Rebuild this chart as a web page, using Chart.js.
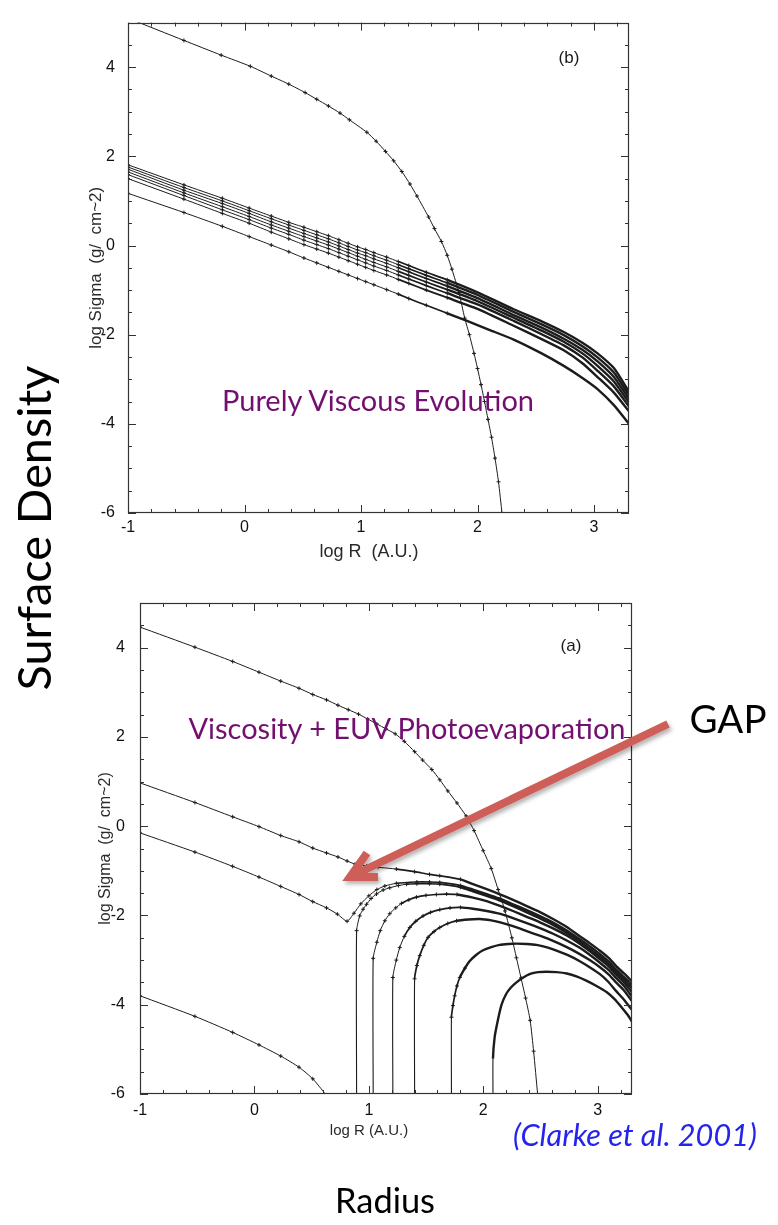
<!DOCTYPE html>
<html><head><meta charset="utf-8">
<script src="https://cdn.jsdelivr.net/npm/chart.js@4.4.1/dist/chart.umd.min.js"></script>
<style>
html,body{margin:0;padding:0;background:#fff;}
#page{position:relative;width:778px;height:1225px;overflow:hidden;background:#fff;}
#page canvas{position:absolute;left:0;}
.t{position:absolute;white-space:nowrap;line-height:1;left:0;top:0;}
.lab{font-family:"Liberation Sans",Arial,sans-serif;color:#1a1a1a;font-size:17px;}
.cal{font-family:Lato,"Open Sans",sans-serif;}
</style></head><body>
<div id="page">
<canvas id="cTop" width="778" height="570" style="top:0;width:778px;height:570px"></canvas>
<canvas id="cBot" width="778" height="580" style="top:570px;width:778px;height:580px"></canvas>
<div class="t lab" id="tb">(b)</div>
<div class="t lab" id="ta">(a)</div>
<div class="t cal" id="t1" style="color:#73106f">Purely Viscous Evolution</div>
<div class="t cal" id="t2" style="color:#73106f">Viscosity + EUV Photoevaporation</div>
<svg width="778" height="1225" style="position:absolute;left:0;top:0;pointer-events:none">
<defs><filter id="sh" x="-20%" y="-40%" width="140%" height="180%"><feDropShadow dx="2" dy="3" stdDeviation="2" flood-color="#000" flood-opacity="0.3"/></filter></defs>
<g filter="url(#sh)" stroke="#cd5f59" stroke-width="8" fill="none">
<line x1="668" y1="724" x2="354" y2="875"/>
<polyline points="367,853 350,877 378,877" stroke-linejoin="miter" stroke-miterlimit="10"/>
</g></svg>
<div class="t cal" id="sd" style="color:#000">Surface Density</div>
<div class="t cal" id="rad" style="color:#000">Radius</div>
<div class="t cal" id="gap" style="color:#000">GAP</div>
<div class="t cal" id="cite" style="color:#2424ee;font-style:italic">(Clarke et al. 2001)</div>
</div>
<script>
// ---------- top panel (b): purely viscous evolution ----------
const topInitX = [-1, -0.52, -0.2, 0.05, 0.23, 0.38, 0.52, 0.62, 0.72, 0.82, 0.9, 1.05, 1.13, 1.21, 1.28, 1.35, 1.42, 1.48, 1.58, 1.63, 1.69, 1.74, 1.78, 1.84, 1.89, 1.93, 1.97, 2.0, 2.03, 2.06, 2.09, 2.12, 2.15, 2.18, 2.21];
const topInitY = [5.1, 4.6, 4.27, 4.02, 3.8, 3.62, 3.43, 3.28, 3.13, 2.97, 2.82, 2.54, 2.34, 2.11, 1.9, 1.66, 1.38, 1.11, 0.64, 0.38, 0.09, -0.22, -0.53, -1.05, -1.63, -2.0, -2.42, -2.76, -3.12, -3.5, -3.9, -4.3, -4.77, -5.3, -6.0];

const topBundleX = [-1, -0.52, -0.19, 0.04, 0.23, 0.38, 0.51, 0.62, 0.72, 0.81, 0.89, 0.97, 1.04, 1.11, 1.22, 1.32, 1.41, 1.56, 1.74, 2.0, 2.31, 2.55, 2.74, 2.9, 3.03, 3.17, 3.3];
const topBundle1 = [1.81, 1.36, 1.06, 0.84, 0.66, 0.52, 0.41, 0.31, 0.22, 0.13, 0.05, -0.03, -0.09, -0.16, -0.26, -0.36, -0.45, -0.60, -0.77, -1.05, -1.43, -1.70, -1.94, -2.18, -2.42, -2.75, -3.28];
const topBundle2 = [1.76, 1.30, 1.00, 0.78, 0.60, 0.46, 0.34, 0.24, 0.15, 0.06, -0.02, -0.10, -0.16, -0.23, -0.33, -0.43, -0.52, -0.67, -0.84, -1.11, -1.49, -1.77, -2.01, -2.26, -2.51, -2.85, -3.36];
const topBundle3 = [1.71, 1.24, 0.94, 0.72, 0.53, 0.39, 0.27, 0.17, 0.08, -0.01, -0.09, -0.17, -0.23, -0.30, -0.40, -0.50, -0.59, -0.74, -0.91, -1.18, -1.56, -1.84, -2.09, -2.34, -2.60, -2.95, -3.44];
const topBundle4 = [1.65, 1.18, 0.87, 0.65, 0.46, 0.32, 0.20, 0.10, 0.01, -0.08, -0.16, -0.24, -0.31, -0.38, -0.48, -0.58, -0.67, -0.82, -0.99, -1.25, -1.62, -1.91, -2.16, -2.42, -2.70, -3.05, -3.52];
const topBundle5 = [1.59, 1.12, 0.80, 0.58, 0.39, 0.25, 0.12, 0.02, -0.07, -0.16, -0.24, -0.32, -0.39, -0.46, -0.56, -0.66, -0.75, -0.90, -1.07, -1.32, -1.69, -1.99, -2.24, -2.51, -2.81, -3.16, -3.61];
const topBundle6 = [1.50, 1.04, 0.72, 0.50, 0.30, 0.15, 0.02, -0.08, -0.17, -0.26, -0.34, -0.42, -0.49, -0.56, -0.66, -0.76, -0.85, -1.00, -1.17, -1.42, -1.80, -2.10, -2.35, -2.64, -2.95, -3.30, -3.72];

const topLowX = [-1, -0.52, -0.19, 0.04, 0.23, 0.38, 0.51, 0.62, 0.72, 0.81, 0.89, 0.97, 1.04, 1.11, 1.22, 1.32, 1.41, 1.56, 1.74, 1.91, 2.1, 2.31, 2.55, 2.74, 2.9, 3.03, 3.17, 3.3];
const topLowY = [1.17, 0.74, 0.43, 0.20, 0.01, -0.14, -0.28, -0.39, -0.49, -0.58, -0.66, -0.74, -0.81, -0.88, -0.99, -1.09, -1.19, -1.34, -1.52, -1.69, -1.89, -2.11, -2.42, -2.70, -2.97, -3.22, -3.58, -4.0];

// ---------- bottom panel (a): viscosity + EUV photoevaporation ----------
const botAX = [-1, -0.52, -0.19, 0.04, 0.23, 0.39, 0.51, 0.63, 0.73, 0.82, 0.91, 0.99, 1.07, 1.15, 1.23, 1.31, 1.40, 1.47, 1.55, 1.62, 1.69, 1.77, 1.85, 1.92, 2.0, 2.07, 2.13, 2.19, 2.25, 2.29, 2.33, 2.37, 2.41, 2.44, 2.475];
const botAY = [4.46, 4.01, 3.69, 3.45, 3.25, 3.09, 2.95, 2.83, 2.71, 2.61, 2.51, 2.40, 2.29, 2.18, 2.07, 1.90, 1.67, 1.48, 1.27, 1.04, 0.79, 0.52, 0.23, -0.1, -0.55, -0.95, -1.42, -1.9, -2.5, -2.95, -3.4, -3.85, -4.35, -5.04, -6.0];

const botBX = [-1, -0.52, -0.19, 0.04, 0.23, 0.39, 0.51, 0.63, 0.73, 0.81, 0.88, 0.98, 1.08, 1.24, 1.4, 1.53, 1.62, 1.80, 1.91, 2.03, 2.14, 2.26, 2.38, 2.5, 2.61, 2.73, 2.84, 2.93, 3.02, 3.1, 3.16, 3.23, 3.3];
const botBY = [0.97, 0.53, 0.21, -0.01, -0.21, -0.35, -0.49, -0.60, -0.69, -0.78, -0.85, -0.89, -0.92, -0.96, -1.02, -1.08, -1.11, -1.19, -1.30, -1.41, -1.52, -1.65, -1.79, -1.93, -2.08, -2.26, -2.46, -2.62, -2.79, -2.96, -3.13, -3.30, -3.48];

const botCX = [-1, -0.52, -0.19, 0.04, 0.23, 0.39, 0.51, 0.63, 0.725, 0.81, 0.87, 0.93, 1.0, 1.07, 1.14, 1.24, 1.42, 1.53, 1.62, 1.80, 1.91, 2.03, 2.14, 2.26, 2.38, 2.5, 2.61, 2.73, 2.84, 2.93, 3.02, 3.1, 3.16, 3.23, 3.3];
const botCY = [-0.15, -0.58, -0.90, -1.14, -1.35, -1.53, -1.69, -1.83, -1.97, -2.13, -1.95, -1.74, -1.56, -1.42, -1.34, -1.28, -1.25, -1.25, -1.26, -1.33, -1.42, -1.52, -1.62, -1.75, -1.88, -2.02, -2.16, -2.34, -2.53, -2.69, -2.87, -3.04, -3.21, -3.38, -3.56];

const botDX = [0.893, 0.893, 0.92, 0.95, 0.98, 1.02, 1.067, 1.125, 1.183, 1.26, 1.33, 1.42, 1.53, 1.62, 1.80, 1.91, 2.03, 2.14, 2.26, 2.38, 2.5, 2.61, 2.73, 2.84, 2.93, 3.02, 3.1, 3.16, 3.23, 3.3];
const botDY = [-6, -2.34, -2.01, -1.86, -1.75, -1.62, -1.52, -1.43, -1.38, -1.33, -1.30, -1.29, -1.29, -1.30, -1.37, -1.46, -1.56, -1.66, -1.79, -1.93, -2.07, -2.21, -2.39, -2.58, -2.75, -2.93, -3.10, -3.27, -3.44, -3.63];

const botEX = [1.038, 1.038, 1.07, 1.1, 1.14, 1.183, 1.235, 1.285, 1.35, 1.416, 1.5, 1.59, 1.68, 1.77, 1.91, 2.03, 2.14, 2.26, 2.38, 2.5, 2.61, 2.73, 2.84, 2.93, 3.02, 3.1, 3.16, 3.23, 3.3];
const botEY = [-6, -2.96, -2.60, -2.34, -2.12, -1.96, -1.83, -1.73, -1.65, -1.59, -1.55, -1.53, -1.52, -1.53, -1.60, -1.68, -1.78, -1.90, -2.03, -2.16, -2.29, -2.45, -2.63, -2.80, -2.98, -3.15, -3.32, -3.50, -3.72];

const botFX = [1.21, 1.21, 1.24, 1.27, 1.31, 1.358, 1.41, 1.474, 1.54, 1.62, 1.71, 1.80, 1.91, 2.03, 2.14, 2.26, 2.38, 2.5, 2.61, 2.73, 2.84, 2.93, 3.02, 3.1, 3.16, 3.23, 3.3];
const botFY = [-6, -3.39, -3.0, -2.72, -2.47, -2.27, -2.13, -2.01, -1.93, -1.87, -1.83, -1.82, -1.85, -1.90, -1.96, -2.06, -2.17, -2.29, -2.41, -2.56, -2.72, -2.88, -3.06, -3.23, -3.40, -3.58, -3.82];

const botGX = [1.40, 1.40, 1.42, 1.445, 1.48, 1.518, 1.57, 1.62, 1.69, 1.766, 1.87, 1.97, 2.07, 2.14, 2.26, 2.38, 2.5, 2.61, 2.73, 2.84, 2.93, 3.02, 3.1, 3.16, 3.23, 3.3];
const botGY = [-6, -3.42, -3.12, -2.90, -2.67, -2.49, -2.36, -2.27, -2.18, -2.12, -2.09, -2.08, -2.11, -2.15, -2.24, -2.35, -2.46, -2.57, -2.71, -2.86, -3.00, -3.16, -3.33, -3.50, -3.68, -3.92];

const botHX = [1.722, 1.722, 1.735, 1.75, 1.77, 1.795, 1.84, 1.882, 1.94, 1.998, 2.07, 2.144, 2.22, 2.29, 2.38, 2.465, 2.55, 2.64, 2.74, 2.84, 2.93, 3.017, 3.09, 3.16, 3.23, 3.3];
const botHY = [-6, -4.28, -4.02, -3.80, -3.58, -3.39, -3.18, -3.02, -2.88, -2.78, -2.71, -2.66, -2.64, -2.63, -2.64, -2.66, -2.71, -2.79, -2.89, -3.02, -3.16, -3.31, -3.48, -3.69, -3.89, -4.12];

const botIX = [2.085, 2.085, 2.10, 2.13, 2.16, 2.20, 2.24, 2.29, 2.35, 2.41, 2.48, 2.55, 2.64, 2.73, 2.82, 2.90, 2.99, 3.08, 3.15, 3.21, 3.26, 3.3];
const botIY = [-6, -5.21, -4.72, -4.32, -4.0, -3.76, -3.62, -3.50, -3.39, -3.31, -3.27, -3.26, -3.27, -3.30, -3.37, -3.46, -3.58, -3.72, -3.88, -4.06, -4.22, -4.38];

const botJX = [-1, -0.52, -0.19, 0.04, 0.23, 0.39, 0.51, 0.62];
const botJY = [-3.80, -4.26, -4.62, -4.90, -5.15, -5.40, -5.66, -6.0];

// axis ranges and titles
const X_MIN = -1, X_MAX = 3.3, Y_MIN = -6, Y_MAX = 5;
const topXTitle = 'log R  (A.U.)', botXTitle = 'log R (A.U.)';
const yTitleText = 'log Sigma  (g/  cm~2)';

const INK = '#1c1c1c';
function series(xs, ys, dense) {
  const data = xs.map((x, i) => ({x: x, y: ys[i]}));
  return {
    data: data, showLine: true, borderColor: INK, borderWidth: 1, tension: 0.2, clip: 0,
    pointStyle: 'cross', pointBorderColor: INK, pointBackgroundColor: INK, pointBorderWidth: 1,
    pointRadius: c => { const p = c.raw; if (!p || p.y <= Y_MIN || p.y >= Y_MAX) return 0; if (dense && p.x > 1.85) return 0; return 2; },
    pointHoverRadius: 0,
    segment: { borderWidth: c => {
      if (!dense) return 1;
      const a = data[c.p0DataIndex], b = data[c.p1DataIndex];
      if (!a || !b || a.y <= Y_MIN) return 1.1;
      const xm = (a.x + b.x) / 2;
      return xm < 1.3 ? 1 : (xm < 1.8 ? 1.7 : 2.4);
    } }
  };
}

const frameTicks = {
  id: 'frameTicks',
  afterDatasetsDraw(chart, args, opts) {
    const {ctx, chartArea: a, scales: {x, y}} = chart;
    ctx.save();
    ctx.strokeStyle = '#333'; ctx.lineWidth = 1.2;
    ctx.strokeRect(Math.round(a.left) + 0.5, Math.round(a.top) + 0.5, Math.round(a.right - a.left) - 1, Math.round(a.bottom - a.top) - 1);
    ctx.lineWidth = 1;
    ctx.beginPath();
    for (let i = 0; i <= 21; i++) {
      const v = X_MIN + i * 0.2;
      if (v > X_MAX + 1e-6) break;
      const major = Math.abs(v - Math.round(v)) < 1e-6;
      const L = major ? 8 : 4;
      const px = Math.round(x.getPixelForValue(v)) + 0.5;
      ctx.moveTo(px, a.bottom); ctx.lineTo(px, a.bottom - L);
      ctx.moveTo(px, a.top); ctx.lineTo(px, a.top + L);
    }
    for (let i = 0; i <= 22; i++) {
      const v = Y_MIN + i * 0.5;
      const major = Math.abs(v / 2 - Math.round(v / 2)) < 1e-6;
      const L = major ? 8 : 4;
      const py = Math.round(y.getPixelForValue(v)) + 0.5;
      ctx.moveTo(a.left, py); ctx.lineTo(a.left + L, py);
      ctx.moveTo(a.right, py); ctx.lineTo(a.right - L, py);
    }
    ctx.stroke();
    // x-axis title
    ctx.fillStyle = '#2a2a2a';
    ctx.font = opts.size + 'px "Liberation Sans"';
    ctx.textAlign = 'center'; ctx.textBaseline = 'middle';
    ctx.fillText(opts.text, opts.cx, opts.cy);
    ctx.restore();
  }
};

function makeChart(id, datasets, g) {
  const tickFont = {family: 'Liberation Sans', size: 16};
  return new Chart(document.getElementById(id), {
    type: 'scatter',
    data: {datasets: datasets},
    options: {
      responsive: false, animation: false, devicePixelRatio: 1,
      events: [],
      layout: {padding: {left: 0, top: g.top, right: g.right, bottom: 0}},
      plugins: {legend: {display: false}, tooltip: {enabled: false},
        frameTicks: {text: g.xTitle, size: g.xTitleSize, cx: 369, cy: g.xTitleY}},
      scales: {
        x: {
          type: 'linear', position: 'bottom', min: X_MIN, max: X_MAX,
          grid: {display: false, drawTicks: false}, border: {display: false},
          ticks: {stepSize: 1, includeBounds: false, color: '#111', font: tickFont, padding: g.xPad, maxRotation: 0, autoSkip: false},
          title: {display: false},
          afterFit: s => { s.height = g.xH; }
        },
        y: {
          type: 'linear', position: 'left', min: Y_MIN, max: Y_MAX,
          grid: {display: false, drawTicks: false}, border: {display: false},
          ticks: {stepSize: 2, includeBounds: false, color: '#111', font: tickFont, padding: g.yPad, autoSkip: false},
          title: {display: true, text: yTitleText, color: '#2a2a2a', font: {family: 'Liberation Sans', size: g.yTitleSize}, padding: {top: g.yTitlePad, bottom: 0}},
          afterFit: s => { s.width = g.yW; }
        }
      }
    },
    plugins: [frameTicks]
  });
}

makeChart('cTop', [
  series(topInitX, topInitY, false),
  series(topBundleX, topBundle1, true),
  series(topBundleX, topBundle2, true),
  series(topBundleX, topBundle3, true),
  series(topBundleX, topBundle4, true),
  series(topBundleX, topBundle5, true),
  series(topBundleX, topBundle6, true),
  series(topLowX, topLowY, true)
], {top: 12, right: 149, xH: 57, yW: 128, xPad: 5, yPad: 13,
    xTitle: topXTitle, xTitleSize: 18, xTitleY: 552,
    yTitleSize: 17, yTitlePad: 86});

makeChart('cBot', [
  series(botAX, botAY, false),
  series(botBX, botBY, true),
  series(botCX, botCY, true),
  series(botDX, botDY, true),
  series(botEX, botEY, true),
  series(botFX, botFY, true),
  series(botGX, botGY, true),
  series(botHX, botHY, true),
  series(botIX, botIY, true),
  series(botJX, botJY, false)
], {top: 33, right: 146, xH: 56, yW: 140, xPad: 7, yPad: 15,
    xTitle: botXTitle, xTitleSize: 15, xTitleY: 561,
    yTitleSize: 16, yTitlePad: 96});

// place slide texts
const mctx = document.createElement('canvas').getContext('2d');
function place(id, cx, cy, w, rot, fixedSize) {
  const el = document.getElementById(id);
  const cs = getComputedStyle(el);
  let size = fixedSize;
  if (!fixedSize) {
    mctx.font = cs.fontStyle + ' ' + cs.fontWeight + ' 100px ' + cs.fontFamily;
    size = 100 * w / mctx.measureText(el.textContent).width;
  }
  el.style.fontSize = size + 'px';
  el.style.left = cx + 'px';
  el.style.top = cy + 'px';
  el.style.transform = 'translate(-50%,-50%) rotate(' + (rot || 0) + 'deg)';
}
place('tb', 569, 57, 0, 0, 17);
place('ta', 571, 645, 0, 0, 17);
place('t1', 378, 400, 314);
place('t2', 407, 727, 439);
place('sd', 33, 528, 325, -90);
place('rad', 385, 1200, 100);
place('gap', 728, 718, 77);
place('cite', 635, 1135, 244);
</script>
</body></html>
